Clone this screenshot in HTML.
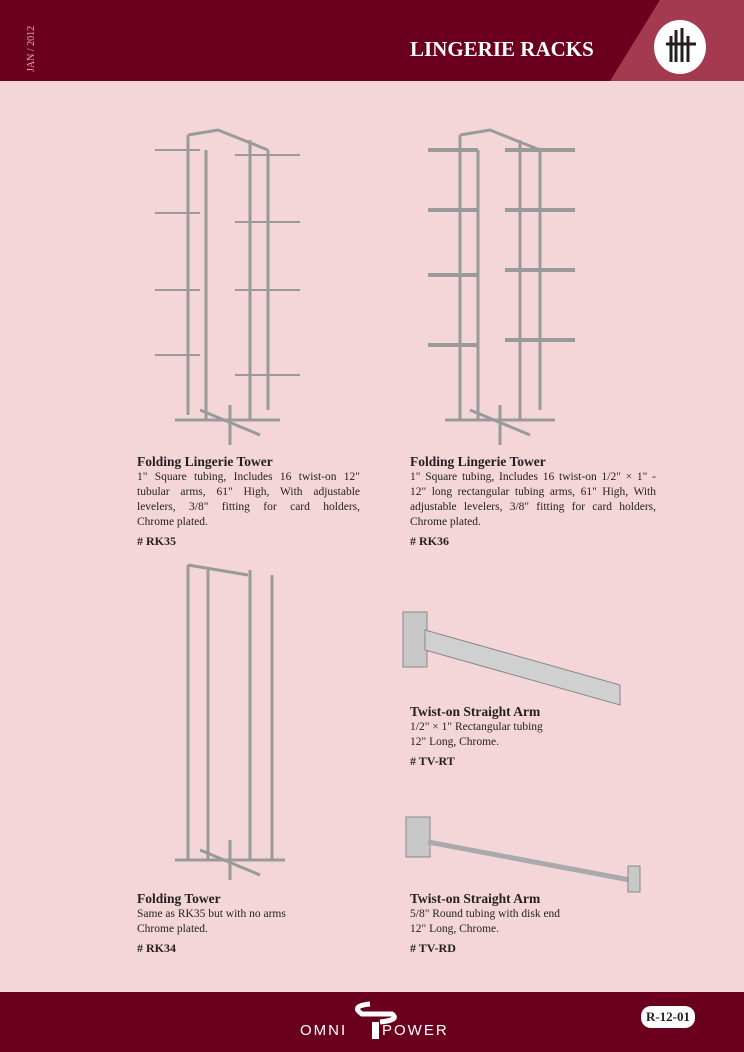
<!DOCTYPE html>
<html><head><meta charset="utf-8"><style>
body{margin:0;width:744px;height:1052px;background:#f4d6d9;position:relative;overflow:hidden;font-family:"Liberation Serif",serif;color:#231f20}
.hdr{position:absolute;left:0;top:0;width:744px;height:81px;background:#6b001e}
.ftr{position:absolute;left:0;top:992px;width:744px;height:60px;background:#6b001e}
.t{position:absolute;font-size:11.5px;line-height:15px;text-align:justify}
.t b{font-size:13.5px;display:block;margin-bottom:1px}
.t i{font-style:normal;font-weight:bold;display:block;margin-top:4px;font-size:12px}
.j{text-align:justify;text-align-last:justify;white-space:nowrap}
</style></head><body>
<div class="hdr"></div>
<svg style="position:absolute;left:0;top:0" width="744" height="81"><polygon points="660,0 744,0 744,81 610,81" fill="#a33a50"/>
<ellipse cx="680" cy="47" rx="26" ry="27" fill="#fff"/>
<g stroke="#231f20" stroke-width="3" fill="none"><path d="M671,36 v26 M676,30 v32 M682,28 v34 M688,36 v26 M666,44 h30"/></g></svg>
<div style="position:absolute;left:26px;top:16px;width:16px;height:60px"><div style="transform:rotate(-90deg);transform-origin:0 0;position:absolute;left:0;top:56px;color:#e0b0bb;font-size:10px;white-space:nowrap">JAN / 2012</div></div>
<div style="position:absolute;left:410px;top:37px;color:#fff;font-size:21px;font-weight:bold">LINGERIE RACKS</div>

<svg style="position:absolute;left:0;top:0" width="744" height="992" fill="none" stroke="#9a9a9a" stroke-width="3">
<path d="M188,135 v280 M206,150 v270 M250,140 v280 M268,150 v260 M188,135 l30,-5 l50,20"/>
<path d="M175,420 h105 M230,405 v40 M200,410 l60,25"/>
<g stroke-width="2"><path d="M155,150 h45 M155,213 h45 M155,290 h45 M155,355 h45 M235,155 h65 M235,222 h65 M235,290 h65 M235,375 h65"/></g>
<path d="M460,135 v285 M478,150 v270 M520,140 v280 M540,150 v260 M460,135 l30,-5 l50,20"/>
<path d="M445,420 h110 M500,405 v40 M470,410 l60,25"/>
<g stroke-width="4"><path d="M428,150 h50 M428,210 h50 M428,275 h50 M428,345 h50 M505,150 h70 M505,210 h70 M505,270 h70 M505,340 h70"/></g>
<path d="M188,565 v295 M208,570 v290 M250,570 v290 M272,575 v285 M188,565 l60,10"/>
<path d="M175,860 h110 M230,840 v40 M200,850 l60,25"/>
<rect x="403" y="612" width="24" height="55" fill="#c8c8c8" stroke="#888" stroke-width="1"/>
<polygon points="425,630 620,685 620,705 425,650" fill="#d0d0d0" stroke="#888" stroke-width="1"/>
<rect x="406" y="817" width="24" height="40" fill="#c8c8c8" stroke="#888" stroke-width="1"/>
<path d="M428,842 L630,880" stroke="#aaa" stroke-width="5"/>
<rect x="628" y="866" width="12" height="26" fill="#c8c8c8" stroke="#888" stroke-width="1"/>
</svg>

<div class="t" style="left:137px;top:454px;width:223px"><b>Folding Lingerie Tower</b><div class="j">1" Square tubing, Includes 16 twist-on 12"</div><div class="j">tubular arms, 61" High, With adjustable</div><div class="j">levelers, 3/8" fitting for card holders,</div><div>Chrome plated.</div><i># RK35</i></div>
<div class="t" style="left:410px;top:454px;width:246px"><b>Folding Lingerie Tower</b>1" Square tubing, Includes 16 twist-on 1/2" × 1" - 12" long rectangular tubing arms, 61" High, With adjustable levelers, 3/8" fitting for card holders, Chrome plated.<i># RK36</i></div>
<div class="t" style="left:410px;top:704px;width:246px;text-align:left"><b>Twist-on Straight Arm</b>1/2" × 1" Rectangular tubing<br>12" Long, Chrome.<i># TV-RT</i></div>
<div class="t" style="left:137px;top:891px;width:223px;text-align:left"><b>Folding Tower</b>Same as RK35 but with no arms<br>Chrome plated.<i># RK34</i></div>
<div class="t" style="left:410px;top:891px;width:246px;text-align:left"><b>Twist-on Straight Arm</b>5/8" Round tubing with disk end<br>12" Long, Chrome.<i># TV-RD</i></div>

<div class="ftr"></div>
<svg style="position:absolute;left:330px;top:1000px" width="90" height="45"><path d="M40,4 q-20,2 -8,10 h30 q8,6 -12,8" stroke="#fff" stroke-width="5" fill="none"/><rect x="42" y="22" width="7" height="17" fill="#fff"/></svg>
<div style="position:absolute;left:300px;top:1022px;color:#fff;font-family:'Liberation Sans',sans-serif;font-size:15px;letter-spacing:2px">OMNI</div>
<div style="position:absolute;left:382px;top:1022px;color:#fff;font-family:'Liberation Sans',sans-serif;font-size:15px;letter-spacing:2px">POWER</div>
<div style="position:absolute;left:641px;top:1006px;width:54px;height:22px;background:#fff;border-radius:10px;text-align:center;font-weight:bold;font-size:13px;line-height:22px">R-12-01</div>
</body></html>
